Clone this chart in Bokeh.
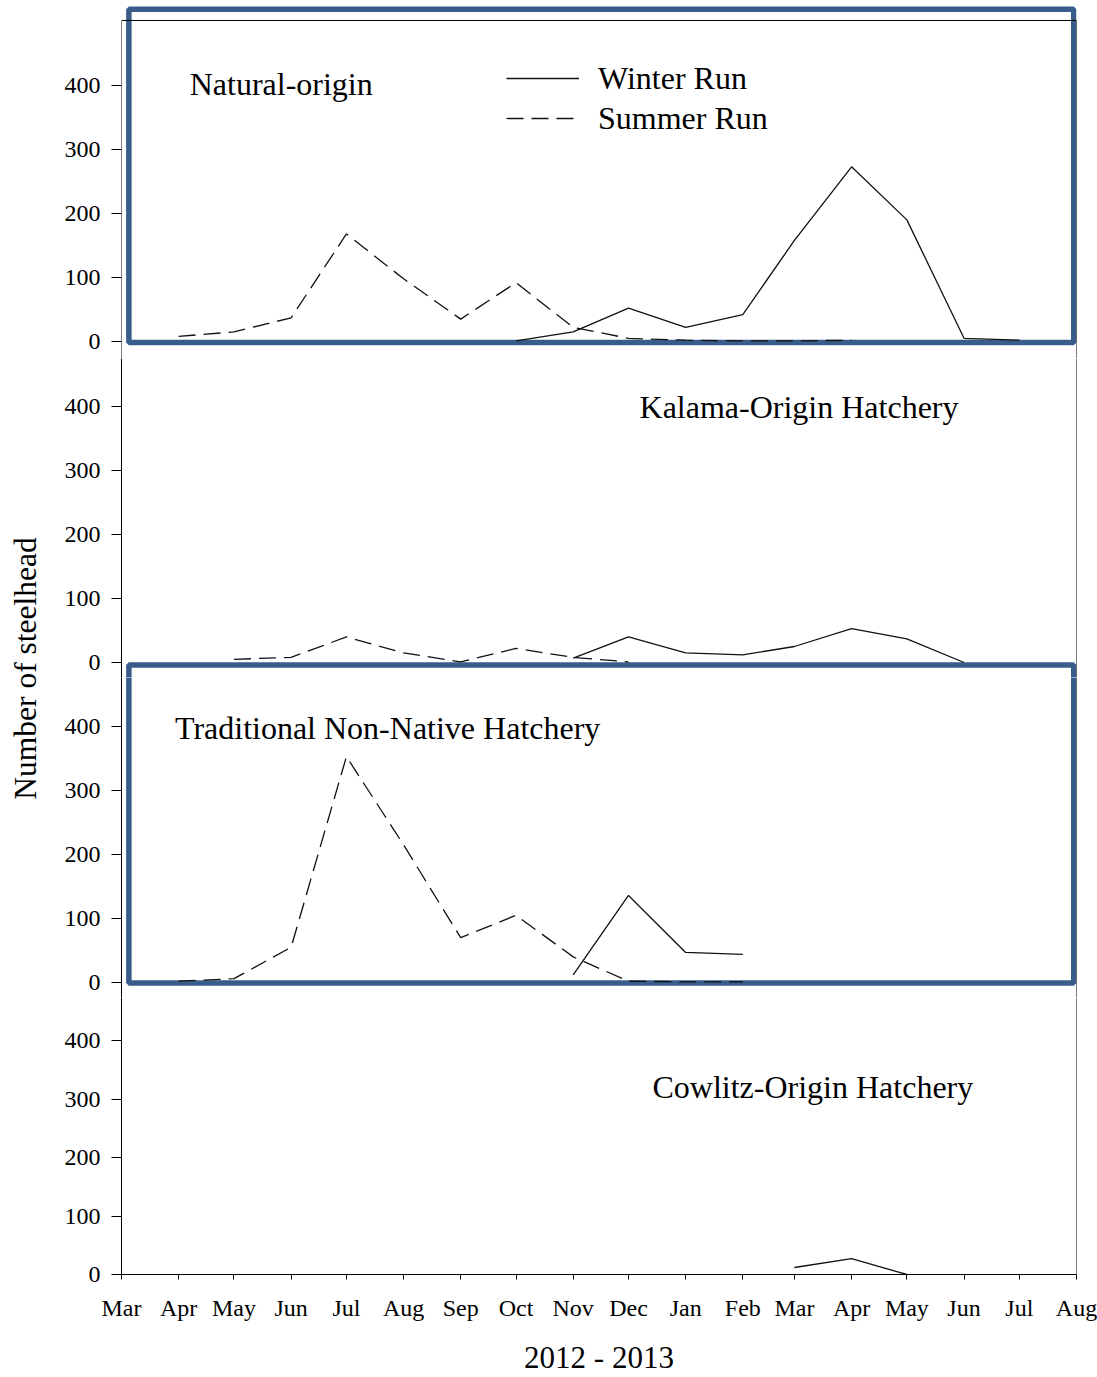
import math
import datetime as dt
from bokeh.plotting import figure
from bokeh.layouts import row, column
from bokeh.models import (FixedTicker, DatetimeTickFormatter, Label, Legend, LegendItem,
                          BoxAnnotation, Span, Range1d, ColumnDataSource)
from bokeh.embed import file_html
from bokeh.resources import INLINE

NaN = float("nan")

# ---------------- data ----------------
months = ["2012-03-01", "2012-04-01", "2012-05-01", "2012-06-01", "2012-07-01", "2012-08-01",
          "2012-09-01", "2012-10-01", "2012-11-01", "2012-12-01", "2013-01-01", "2013-02-01",
          "2013-03-01", "2013-04-01", "2013-05-01", "2013-06-01", "2013-07-01", "2013-08-01"]

natural_summer = [NaN, 8, 15, 37, 168, 98, 35, 92, 22, 5, 2, 1, 1, 2, NaN, NaN, NaN, NaN]
natural_winter = [NaN, NaN, NaN, NaN, NaN, NaN, NaN, 1, 15, 52, 22, 42, 158, 273, 190, 5, 2, NaN]

kalama_summer = [NaN, NaN, 5, 8, 40, 15, 1, 22, 8, 1, NaN, NaN, NaN, NaN, NaN, NaN, NaN, NaN]
kalama_winter = [NaN, NaN, NaN, NaN, NaN, NaN, NaN, NaN, 7, 40, 15, 12, 25, 53, 37, 0, NaN, NaN]

traditional_summer = [NaN, 2, 6, 55, 353, 215, 70, 105, 40, 2, 1, 1, NaN, NaN, NaN, NaN, NaN, NaN]
traditional_winter = [NaN, NaN, NaN, NaN, NaN, NaN, NaN, NaN, 12, 136, 47, 44, NaN, NaN, NaN, NaN, NaN, NaN]

cowlitz_summer = [NaN] * 18
cowlitz_winter = [NaN, NaN, NaN, NaN, NaN, NaN, NaN, NaN, NaN, NaN, NaN, NaN, 12, 27, 0, NaN, NaN, NaN]

y_ticks = [0, 100, 200, 300, 400]
panel_names = ["Natural-origin", "Kalama-Origin Hatchery",
               "Traditional Non-Native Hatchery", "Cowlitz-Origin Hatchery"]
series_names = ["Winter Run", "Summer Run"]

# ---------------- styling ----------------
FONT = "Liberation Serif"
LINE_COLOR = "#111111"
HIGHLIGHT = "#385D8A"
EPOCH = dt.datetime(1970, 1, 1)


def ms(s):
    d = dt.datetime.fromisoformat(s) if isinstance(s, str) else s
    return (d - EPOCH).total_seconds() * 1000.0


dates = [dt.datetime.fromisoformat(m) for m in months]
x_range = Range1d(ms(months[0]), ms(months[-1]))
PLOT_W = 1052
HL_LEFT = ms("2012-03-05")
HL_RIGHT = ms(dt.datetime(2013, 7, 30, 12))


def make_panel(height, top, bottom, y0, y1, winter, summer, show_x=False):
    p = figure(width=PLOT_W, height=height, x_axis_type="datetime", x_range=x_range,
               y_range=Range1d(y0, y1), output_backend="svg", toolbar_location=None,
               min_border_left=76, min_border_right=21, min_border_top=top,
               min_border_bottom=bottom)
    p.grid.visible = False
    p.outline_line_color = None
    yax = p.yaxis[0]
    yax.ticker = FixedTicker(ticks=y_ticks)
    yax.major_tick_out = 10
    yax.major_tick_in = 0
    yax.minor_tick_line_color = None
    yax.major_label_standoff = 11
    yax.major_label_text_font = FONT
    yax.major_label_text_font_size = "24px"
    yax.major_label_text_color = "black"
    yax.axis_line_color = "black"
    yax.major_tick_line_color = "black"
    if not show_x:
        p.xaxis.visible = False
    src = ColumnDataSource(dict(x=dates, winter=winter, summer=summer))
    rw = p.line("x", "winter", source=src, line_color=LINE_COLOR, line_width=1.3)
    rs = p.line("x", "summer", source=src, line_color=LINE_COLOR, line_width=1.3,
                line_dash="17 8")
    return p, rw, rs


def panel_label(p, x, y, text):
    p.add_layout(Label(x=x, y=y, text=text, text_font=FONT, text_font_size="32px",
                       text_baseline="middle", text_align="left", text_color="black"))


def highlight(p, bottom, top):
    p.add_layout(BoxAnnotation(left=HL_LEFT, right=HL_RIGHT, bottom=bottom, top=top,
                               fill_alpha=0, line_color=HIGHLIGHT, line_alpha=1.0,
                               line_width=5.5, level="underlay"))


def right_edge(p):
    p.add_layout(Span(location=ms(months[-1]), dimension="height", line_color="black",
                      line_width=1))


# Panel 1: canvas 0..358, frame 5..358 (zero at 341)
p1, w1, s1 = make_panel(358, 5, 0, -26.5625, 525, natural_winter, natural_summer)
p1.yaxis[0].axis_line_color = None
p1.add_layout(BoxAnnotation(left=ms(months[0]), right=ms(months[-1]), bottom=-200, top=501.6,
                            fill_alpha=0, line_color="black", line_alpha=1.0, line_width=1))
legend = Legend(items=[LegendItem(label=series_names[0], renderers=[w1]),
                       LegendItem(label=series_names[1], renderers=[s1])],
                location=(385, 220), glyph_width=73, glyph_height=40, label_height=40,
                label_standoff=19, spacing=0, padding=0, margin=0,
                border_line_color=None, background_fill_alpha=0,
                label_text_font=FONT, label_text_font_size="32px", label_text_color="black")
p1.add_layout(legend)
panel_label(p1, ms("2012-04-07"), 403, panel_names[0])
highlight(p1, -1.5, 519)

# Panel 2: canvas 358..677 (zero at 662)
p2, _, _ = make_panel(319, 0, 0, -23.4375, 475, kalama_winter, kalama_summer)
right_edge(p2)
panel_label(p2, ms("2012-12-07"), 400, panel_names[1])
highlight(p2, -400, -3.9)  # top edge of the second highlight box

# Panel 3: canvas 677..997 (zero at 982)
p3, _, _ = make_panel(320, 0, 0, -23.4375, 476.5625, traditional_winter, traditional_summer)
right_edge(p3)
panel_label(p3, ms("2012-03-30"), 398, panel_names[2])
highlight(p3, -0.8, 700)

# Panel 4: canvas 997..1377, frame 997..1278, with x axis
p4, _, _ = make_panel(380, 0, 99, 0, 474.26, cowlitz_winter, cowlitz_summer, show_x=True)
right_edge(p4)
panel_label(p4, ms("2012-12-14"), 321, panel_names[3])
xax = p4.xaxis[0]
xax.ticker = FixedTicker(ticks=[ms(m) for m in months])
fmt = "%b"
xax.formatter = DatetimeTickFormatter(days=fmt, months=fmt, years=fmt, hours=fmt,
                                      minutes=fmt, seconds=fmt, milliseconds=fmt,
                                      microseconds=fmt, minsec=fmt, hourmin=fmt)
xax.major_tick_out = 5
xax.major_tick_in = 0
xax.minor_tick_line_color = None
xax.major_label_standoff = 15
xax.major_label_text_font = FONT
xax.major_label_text_font_size = "24px"
xax.major_label_text_color = "black"
xax.axis_line_color = "black"
xax.axis_label = "2012 - 2013"
xax.axis_label_text_font = FONT
xax.axis_label_text_font_size = "31px"
xax.axis_label_text_font_style = "normal"
xax.axis_label_text_color = "black"
xax.axis_label_standoff = 16

# y-axis title strip
ylab = figure(width=45, height=1377, x_range=Range1d(0, 45), y_range=Range1d(0, 1377),
              output_backend="svg", toolbar_location=None, min_border=0,
              x_axis_location=None, y_axis_location=None)
ylab.grid.visible = False
ylab.outline_line_color = None
ylab.add_layout(Label(x=25, y=1377 - 668, text="Number of steelhead", angle=math.pi / 2,
                      text_font=FONT, text_font_size="31.5px", text_align="center",
                      text_baseline="middle", text_color="black"))

layout = row(ylab, column(p1, p2, p3, p4))
open("out.html", "w").write(file_html(layout, INLINE))
